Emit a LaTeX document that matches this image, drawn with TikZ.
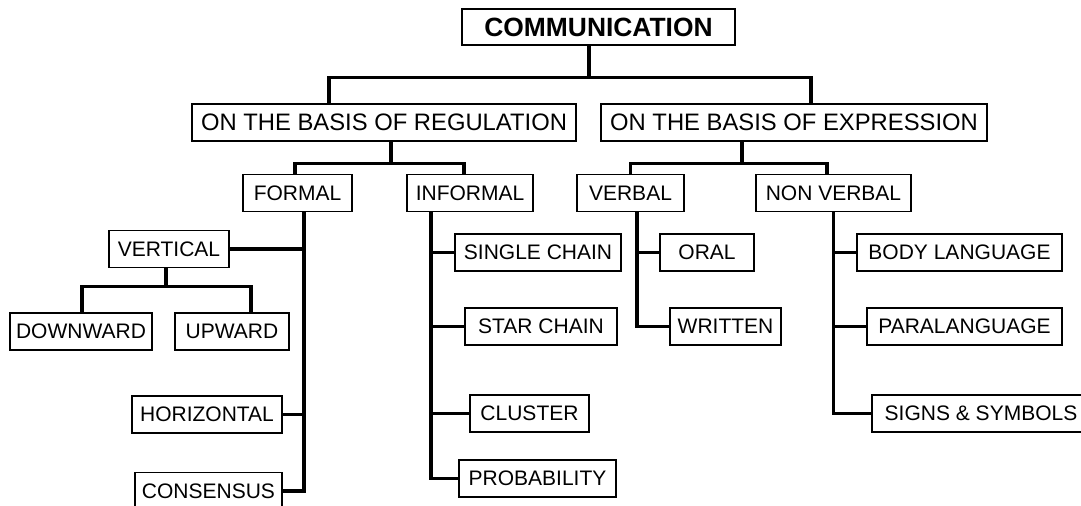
\documentclass[tikz,border=0pt]{standalone}
\usepackage{fontspec}
\setmainfont{Liberation Sans}

\tikzset{
  box/.style={draw,line width=0.75pt,inner sep=0pt,minimum height=18.5pt,
    font=\fontsize{10.5}{12.6}\selectfont},
  basis/.style={box,font=\fontsize{11.9}{14.3}\selectfont},
  root/.style={box,minimum height=18pt,font=\fontsize{13.2}{15.8}\selectfont\bfseries},
  link/.style={line width=1.65pt}
}

\begin{document}
\begin{tikzpicture}[x=0.5pt,y=-0.5pt]
  \useasboundingbox (0,0) rectangle (1081,506);
  \node[root,minimum width=136.5pt]  (comm)        at (598.5,27)    {COMMUNICATION};
  \node[basis,minimum width=192pt]   (reg)         at (384,122.5)   {ON THE BASIS OF REGULATION};
  \node[basis,minimum width=193pt]   (exp)         at (794,122.5)   {ON THE BASIS OF EXPRESSION};
  \node[box,minimum width=54.5pt]    (formal)      at (297.5,193)   {FORMAL};
  \node[box,minimum width=63pt]      (informal)    at (470,193)     {INFORMAL};
  \node[box,minimum width=53.5pt]    (verbal)      at (630.5,193)   {VERBAL};
  \node[box,minimum width=77.5pt]    (nonverbal)   at (833.5,193)   {NON VERBAL};
  \node[box,minimum width=60pt]      (vertical)    at (169,249)     {VERTICAL};
  \node[box,minimum width=71pt]      (downward)    at (81,331.5)    {DOWNWARD};
  \node[box,minimum width=57pt]      (upward)      at (232,331.5)   {UPWARD};
  \node[box,minimum width=75pt]      (horizontal)  at (207,414.5)   {HORIZONTAL};
  \node[box,minimum width=73.5pt]    (consensus)   at (208.5,491)   {CONSENSUS};
  \node[box,minimum width=83pt]      (single)      at (538,252.5)   {SINGLE CHAIN};
  \node[box,minimum width=76pt]      (star)        at (541,326.5)   {STAR CHAIN};
  \node[box,minimum width=59.5pt]    (cluster)     at (529.5,413.5) {CLUSTER};
  \node[box,minimum width=78.5pt]    (probability) at (537.5,478.5) {PROBABILITY};
  \node[box,minimum width=47pt]      (oral)        at (707,252.5)   {ORAL};
  \node[box,minimum width=55.5pt]    (written)     at (725.5,326.5) {WRITTEN};
  \node[box,minimum width=102.5pt]   (body)        at (959.5,252.5) {BODY LANGUAGE};
  \node[box,minimum width=97.5pt]    (para)        at (964.5,326.5) {PARALANGUAGE};
  \node[box,minimum width=109pt]     (signs)       at (981,413.5)   {SIGNS \& SYMBOLS};

  \coordinate (fstem) at ([xshift=3.25pt]formal.south);
  \coordinate (istem) at ([xshift=-19.5pt]informal.south);
  \coordinate (vstem) at ([xshift=3.25pt]verbal.south);
  \coordinate (nstem) at (nonverbal.south);

  \draw[link] ([xshift=-4.75pt]comm.south) -- ++(0,32) -| ([xshift=-27.5pt]reg.north);
  \draw[link] ([xshift=-4.75pt]comm.south) -- ++(0,32) -| ([xshift=8.5pt]exp.north);
  \draw[link] ([xshift=3.5pt]reg.south) -- ++(0,22) -| ([xshift=-1.25pt]formal.north);
  \draw[link] ([xshift=3.5pt]reg.south) -- ++(0,22) -| ([xshift=-3pt]informal.north);
  \draw[link] ([xshift=-26pt]exp.south) -- ++(0,22) -| (verbal.north);
  \draw[link] ([xshift=-26pt]exp.south) -- ++(0,22) -| ([xshift=-3.25pt]nonverbal.north);
  \draw[link] ([xshift=-1.5pt]vertical.south) -- ++(0,18) -| ([xshift=0.5pt]downward.north);
  \draw[link] ([xshift=-1.5pt]vertical.south) -- ++(0,18) -| ([xshift=9.5pt]upward.north);

  \draw[link] (fstem) |- (consensus.east);
  \draw[link] (vertical.east) -- (vertical.east -| fstem)
              (horizontal.east) -- (horizontal.east -| fstem);
  \draw[link] (istem) |- (probability.west);
  \draw[link] (single.west) -- (single.west -| istem)
              (star.west) -- (star.west -| istem)
              (cluster.west) -- (cluster.west -| istem);
  \draw[link] (vstem) |- (written.west);
  \draw[link] (oral.west) -- (oral.west -| vstem);
  \draw[link] (nstem) |- (signs.west);
  \draw[link] (body.west) -- (body.west -| nstem)
              (para.west) -- (para.west -| nstem);
\end{tikzpicture}
\end{document}
